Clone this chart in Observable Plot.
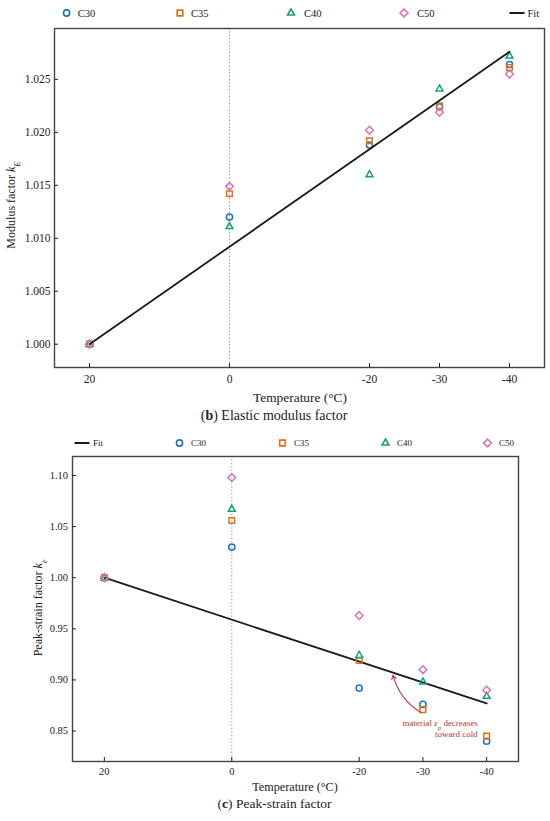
<!DOCTYPE html>
<html><head><meta charset="utf-8">
<script src="https://cdn.jsdelivr.net/npm/d3@7"></script>
<script src="https://cdn.jsdelivr.net/npm/@observablehq/plot@0.6"></script>
<style>
body{margin:0;background:#fff;}
#root{position:relative;width:550px;height:821px;overflow:hidden;font-family:"Times New Roman","Liberation Serif","DejaVu Serif",serif;}
#root svg{position:absolute;left:0;font-family:"Times New Roman","Liberation Serif","DejaVu Serif",serif !important;}
#root svg text, #root svg tspan{font-family:"Times New Roman","Liberation Serif","DejaVu Serif",serif !important;}
</style></head><body><div id="root"></div>
<script>
// ---------- data ----------
const temps = [20, 0, -20, -30, -40];
const xTicks = [20, 0, -20, -30, -40];
const seriesNames = ["C30", "C35", "C40", "C50"];

// (b) elastic modulus factor k_E
const kE_C30 = [1.000, 1.0120, 1.0188, 1.0224, 1.0264];
const kE_C35 = [1.000, 1.0142, 1.0192, 1.0225, 1.0261];
const kE_C40 = [1.000, 1.0111, 1.0160, 1.0241, 1.0272];
const kE_C50 = [1.000, 1.0149, 1.0202, 1.0219, 1.0255];
const kE_fitT = [20, -40];
const kE_fitV = [1.000, 1.0276];
const kE_yTicks = [1.000, 1.005, 1.010, 1.015, 1.020, 1.025];

// (c) peak-strain factor k_eps
const ke_C30 = [1.000, 1.030, 0.892, 0.876, 0.840];
const ke_C35 = [1.000, 1.056, 0.919, 0.871, 0.845];
const ke_C40 = [1.000, 1.067, 0.924, 0.898, 0.884];
const ke_C50 = [1.000, 1.098, 0.963, 0.910, 0.890];
const ke_fitT = [20, -40];
const ke_fitV = [1.000, 0.877];
const ke_yTicks = [0.85, 0.90, 0.95, 1.00, 1.05, 1.10];

// annotation (data coordinates)
const noteT = -38.7;
const noteV = [0.8575, 0.8465];
const arrowFrom = [-29.7, 0.868];
const arrowTo = [-25.3, 0.9046];

// ---------- style ----------
const FONT = "Times New Roman, Liberation Serif, DejaVu Serif, serif";
const colors = ["#1b75bc", "#e0701e", "#1a9e77", "#d873b6"];
const symbols = ["circle", "square2", "triangle2", "diamond2"];
const d3symbols = [d3.symbolCircle, d3.symbolSquare2, d3.symbolTriangle2, d3.symbolDiamond2];
const radii = [3.1, 3.6, 3.3, 3.5];
const root = document.getElementById("root");

function buildChart(cfg) {
  const dots = cfg.series.map((vals, i) =>
    Plot.dot(temps.map((t, j) => ({t, v: vals[j]})), {
      x: "t", y: "v", symbol: symbols[i], r: radii[i],
      stroke: colors[i], strokeWidth: 1.5, fill: "none"
    }));
  const fit = Plot.line(cfg.fitT.map((t, i) => ({t, v: cfg.fitV[i]})),
    {x: "t", y: "v", stroke: "#1a1a1a", strokeWidth: 1.8});
  const marks = [
    Plot.ruleX([0], {stroke: "#8c8c8c", strokeWidth: 1, strokeDasharray: "1.2,2.2"}),
    ...(cfg.lineFirst ? [fit, ...dots] : [...dots, fit]),
    ...(cfg.extra || []),
    Plot.frame({stroke: "#444", strokeWidth: 1.4}),
    Plot.axisX({ticks: xTicks, tickFormat: d => `${d}`, tickSize: -4,
      tickPadding: cfg.xPad, fontSize: cfg.tickFs, label: null, color: "#222"}),
    Plot.axisY({ticks: cfg.yTicks, tickFormat: d3.format(cfg.yFmt), tickSize: -4,
      tickPadding: cfg.yPad, fontSize: cfg.tickFs, label: null, color: "#222"})
  ];
  const chart = Plot.plot({
    width: 550, height: cfg.height,
    marginLeft: cfg.ml, marginRight: cfg.mr, marginTop: cfg.mt, marginBottom: cfg.mb,
    style: {fontFamily: FONT, background: "#fff", color: "#222"},
    x: {domain: [25, -45]},
    y: {domain: cfg.yDomain},
    marks
  });
  chart.setAttribute("font-family", FONT);
  chart.style.top = cfg.top + "px";
  root.appendChild(chart);
  return chart;
}

function legend(svg, items, y, fs) {
  const g = d3.select(svg).append("g")
    .attr("font-family", FONT).attr("font-size", fs).attr("fill", "#222")
    .attr("text-anchor", "start");
  items.forEach(it => {
    if (it.series == null) {
      g.append("line").attr("x1", it.mx - 7.5).attr("x2", it.mx + 7.5)
        .attr("y1", y).attr("y2", y).attr("stroke", "#1a1a1a").attr("stroke-width", 2);
      g.append("text").attr("x", it.tx).attr("y", y).attr("dy", "0.35em")
        .attr("text-anchor", "start").text("Fit");
    } else {
      const i = it.series;
      g.append("path")
        .attr("d", d3.symbol(d3symbols[i], Math.PI * radii[i] * radii[i])())
        .attr("transform", `translate(${it.mx},${y})`)
        .attr("fill", "none").attr("stroke", colors[i]).attr("stroke-width", 1.6);
      g.append("text").attr("x", it.tx).attr("y", y).attr("dy", "0.35em")
        .attr("text-anchor", "start").text(seriesNames[i]);
    }
  });
}

function addText(svg, x, y, fs, parts, opts = {}) {
  const t = d3.select(svg).append("text")
    .attr("font-family", FONT).attr("font-size", fs).attr("fill", opts.fill || "#222")
    .attr("text-anchor", opts.anchor || "middle")
    .attr("transform", `translate(${x},${y})` + (opts.rotate ? ` rotate(${opts.rotate})` : ""))
    .attr("dy", "0.35em");
  parts.forEach(p => {
    const s = t.append("tspan").text(p.t);
    if (p.b) s.attr("font-weight", "bold");
    if (p.i) s.attr("font-style", "italic");
    if (p.sub) s.attr("baseline-shift", "sub").attr("font-size", fs * 0.72);
  });
  return t;
}

// ---------- chart (b) ----------
const c1 = buildChart({
  top: 0, height: 430, ml: 54, mr: 6, mt: 28, mb: 63,
  yDomain: [0.9978, 1.0298], yTicks: kE_yTicks, yFmt: ".3f",
  series: [kE_C30, kE_C35, kE_C40, kE_C50], fitT: kE_fitT, fitV: kE_fitV,
  tickFs: 11.5, xPad: 11.5, yPad: 8, lineFirst: false
});
legend(c1, [
  {series: 0, mx: 66.6, tx: 77.8}, {series: 1, mx: 180, tx: 191},
  {series: 2, mx: 291, tx: 304}, {series: 3, mx: 404, tx: 417},
  {series: null, mx: 517, tx: 527.5}
], 13, 10.5);
addText(c1, 300, 397, 13.4, [{t: "Temperature (°C)"}]);
addText(c1, 274, 415, 14, [{t: "("}, {t: "b", b: true}, {t: ") Elastic modulus factor"}]);
addText(c1, 11, 205, 12, [{t: "Modulus factor "}, {t: "k", i: true}, {t: "E", i: true, sub: true}], {rotate: -90});

// ---------- chart (c) ----------
const noteColor = "#b03a3a";
const c2 = buildChart({
  top: 430, height: 391, ml: 72, mr: 32, mt: 26, mb: 60,
  yDomain: [0.8202, 1.1186], yTicks: ke_yTicks, yFmt: ".2f",
  series: [ke_C30, ke_C35, ke_C40, ke_C50], fitT: ke_fitT, fitV: ke_fitV,
  tickFs: 10.5, xPad: 9.7, yPad: 8.5, lineFirst: true,
  extra: [Plot.arrow([{x1: arrowFrom[0], y1: arrowFrom[1], x2: arrowTo[0], y2: arrowTo[1]}],
    {x1: "x1", y1: "y1", x2: "x2", y2: "y2", bend: 22, stroke: noteColor, strokeWidth: 1.1, headLength: 6})]
});
legend(c2, [
  {series: null, mx: 82, tx: 93}, {series: 0, mx: 179.5, tx: 191},
  {series: 1, mx: 282.5, tx: 294}, {series: 2, mx: 385.5, tx: 397},
  {series: 3, mx: 487.5, tx: 499}
], 13, 9);
addText(c2, 295, 357, 12.2, [{t: "Temperature (°C)"}]);
addText(c2, 274.5, 373, 13.5, [{t: "("}, {t: "c", b: true}, {t: ") Peak-strain factor"}]);
addText(c2, 38, 178, 12, [{t: "Peak-strain factor "}, {t: "k", i: true}, {t: "ε", i: true, sub: true}], {rotate: -90});
const sx = c2.scale("x"), sy = c2.scale("y");
addText(c2, sx.apply(noteT), sy.apply(noteV[0]), 9,
  [{t: "material "}, {t: "ε", i: true}, {t: "p", i: true, sub: true}, {t: " decreases"}],
  {anchor: "end", fill: noteColor});
addText(c2, sx.apply(noteT), sy.apply(noteV[1]), 9, [{t: "toward cold"}], {anchor: "end", fill: noteColor});
</script></body></html>
